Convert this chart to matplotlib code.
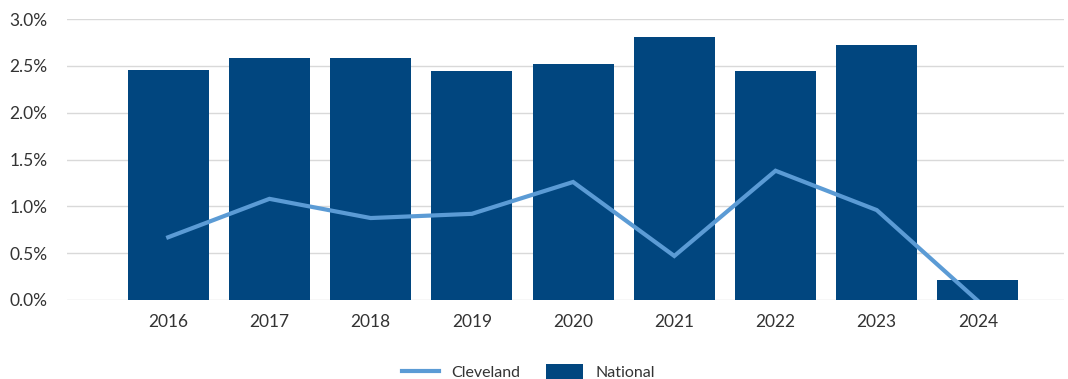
import matplotlib
matplotlib.use("Agg")
import matplotlib.pyplot as plt
from matplotlib.ticker import FuncFormatter

years = ["2016", "2017", "2018", "2019", "2020", "2021", "2022", "2023", "2024"]
national = [2.46, 2.58, 2.58, 2.44, 2.52, 2.81, 2.45, 2.72, 0.21]
cleveland = [0.67, 1.08, 0.875, 0.92, 1.26, 0.47, 1.38, 0.96, -0.01]

plt.rcParams['font.family'] = ['Lato', 'DejaVu Sans']

fig = plt.figure(figsize=(10.68, 3.79), dpi=100)
ax = fig.add_axes([67 / 1068, 79 / 379, 997 / 1068, 281 / 379])

x = list(range(len(years)))
ax.bar(x, national, width=0.8, color='#01467f', label='National', zorder=2)
ax.plot(x, cleveland, color='#5b9bd5', linewidth=3, label='Cleveland', zorder=3,
        solid_joinstyle='miter')

ax.set_ylim(0, 3.0)
ax.set_xlim(-1.0, 8.85)
ax.set_yticks([0, 0.5, 1.0, 1.5, 2.0, 2.5, 3.0])
ax.yaxis.set_major_formatter(FuncFormatter(lambda v, p: '%.1f%%' % v))
ax.set_xticks(x)
ax.set_xticklabels(years)
ax.grid(axis='y', color='#d9d9d9', linewidth=1, zorder=0)
for s in ax.spines.values():
    s.set_visible(False)
ax.tick_params(length=0, labelsize=12.5, colors='#333333', pad=10)
ax.tick_params(axis='y', pad=14)

handles, labels = ax.get_legend_handles_labels()
fig.legend(handles, labels, loc='center', bbox_to_anchor=(0.495, 0.018),
           ncol=2, frameon=False, fontsize=11.5, handlelength=2.3,
           handleheight=1.0, handletextpad=0.8, columnspacing=1.6,
           labelcolor='#333333')

fig.savefig('out.png', dpi=100)
